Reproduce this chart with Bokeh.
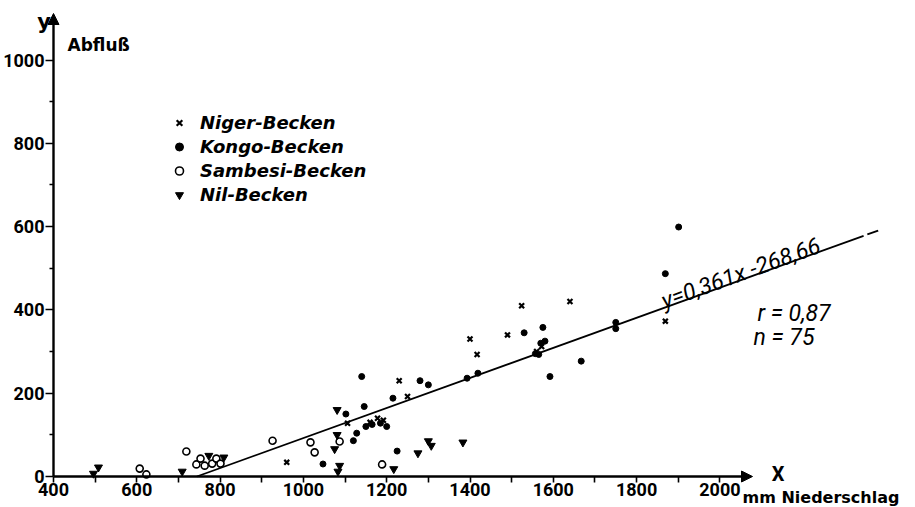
import math
from bokeh.plotting import figure
from bokeh.models import (Range1d, FixedTicker, Label, Arrow, NormalHead,
                          Legend, LegendItem)
from bokeh.embed import file_html
from bokeh.resources import INLINE

# ---------------- data ----------------
niger_x = [960, 1106, 1160, 1178, 1192, 1230, 1250, 1400, 1417, 1490, 1524, 1560, 1572, 1640, 1869]
niger_y = [34, 128, 130, 140, 135, 230, 192, 330, 293, 340, 410, 300, 312, 420, 373]

kongo_x = [1047, 1102, 1120, 1128, 1146, 1140, 1150, 1165, 1185, 1200, 1215, 1225, 1280, 1300,
           1393, 1419, 1530, 1557, 1565, 1570, 1575, 1580, 1592, 1667, 1750, 1750, 1869, 1901]
kongo_y = [30, 150, 86, 104, 168, 240, 120, 125, 128, 120, 188, 61, 230, 220,
           236, 248, 345, 295, 293, 320, 358, 325, 240, 277, 370, 355, 487, 599]

sambesi_x = [607, 623, 719, 743, 753, 763, 781, 791, 801, 926, 1017, 1027, 1087, 1189]
sambesi_y = [19, 5, 60, 29, 43, 26, 31, 43, 31, 86, 82, 58, 84, 29]

nil_x = [496, 508, 709, 773, 809, 1081, 1075, 1081, 1087, 1083, 1217, 1275, 1300, 1307, 1383]
nil_y = [7, 22, 12, 50, 46, 160, 66, 100, 26, 12, 18, 56, 85, 74, 82]

series_names = ["Niger-Becken", "Kongo-Becken", "Sambesi-Becken", "Nil-Becken"]

slope = 0.361
intercept = -268.66
equation_text = "y=0,361x -268,66"
r_text = "r = 0,87"
n_text = "n = 75"

x_ticks = [400, 600, 800, 1000, 1200, 1400, 1600, 1800, 2000]
x_minor = [500, 700, 900, 1100, 1300, 1500, 1700, 1900]
y_ticks = [0, 200, 400, 600, 800, 1000]
y_minor = [100, 300, 500, 700, 900]

x_axis_title = "X"
x_unit_title = "mm Niederschlag"
y_axis_title = "y"
y_unit_title = "Abfluß"

# ---------------- layout ----------------
W, H = 915, 507
OX, OY = 53, 476      # pixel position of the origin (400, 0)
S = 0.4165            # px per data unit (both axes)
X0, Y0 = 400, 0
x_start = X0 - OX / S
y_start = Y0 - (H - OY) / S


def dx(px):
    return X0 + (px - OX) / S


def dy(py):
    return Y0 + (OY - py) / S


p = figure(width=W, height=H,
           x_range=Range1d(x_start, x_start + W / S),
           y_range=Range1d(y_start, y_start + H / S),
           output_backend="svg", toolbar_location=None,
           min_border=0, min_border_left=0, min_border_right=0,
           min_border_top=0, min_border_bottom=0)
p.outline_line_color = None
p.xgrid.visible = False
p.ygrid.visible = False
p.background_fill_color = "white"
p.border_fill_color = "white"

TICK_FONT = "Roboto"
for ax in (p.xaxis[0], p.yaxis[0]):
    ax.axis_line_color = None
    ax.major_tick_in = 0
    ax.minor_tick_in = 0
    ax.major_tick_line_width = 1.6
    ax.minor_tick_line_width = 1.6
    ax.major_tick_line_color = "black"
    ax.minor_tick_line_color = "black"
    ax.major_label_text_font = TICK_FONT
    ax.major_label_text_font_size = "18px"
    ax.major_label_text_font_style = "bold"
    ax.major_label_text_color = "black"

p.xaxis.fixed_location = Y0
p.xaxis.ticker = FixedTicker(ticks=x_ticks, minor_ticks=x_minor)
p.xaxis.major_tick_out = 6
p.xaxis.minor_tick_out = 6
p.xaxis.major_label_standoff = 0

p.yaxis.fixed_location = X0
p.yaxis.ticker = FixedTicker(ticks=y_ticks, minor_ticks=y_minor)
p.yaxis.major_tick_out = 8
p.yaxis.minor_tick_out = 4
p.yaxis.major_label_standoff = 1

# axis arrows
for xe, ye in ((dx(752), Y0), (X0, dy(13))):
    p.add_layout(Arrow(end=NormalHead(size=11, fill_color="black", line_color="black", line_width=1),
                       x_start=X0, y_start=Y0, x_end=xe, y_end=ye,
                       line_width=2.4, line_color="black"))

# regression line
x_zero = -intercept / slope
x_solid_end = 2345
x_dash_start, x_dash_end = 2354, 2380
p.line([x_zero, x_solid_end], [slope * x_zero + intercept, slope * x_solid_end + intercept],
       line_color="black", line_width=1.8)
p.line([x_dash_start, x_dash_end], [slope * x_dash_start + intercept, slope * x_dash_end + intercept],
       line_color="black", line_width=1.8)

# scatter series
r_niger = p.scatter(niger_x, niger_y, marker="x", size=7, line_width=2.2, line_color="black")
r_kongo = p.scatter(kongo_x, kongo_y, marker="circle", size=6, fill_color="black", line_color="black")
r_sambesi = p.scatter(sambesi_x, sambesi_y, marker="circle", size=7, fill_color="white",
                      line_color="black", line_width=1.6)
r_nil = p.scatter(nil_x, nil_y, marker="inverted_triangle", size=8, fill_color="black", line_color="black")

legend = Legend(items=[LegendItem(label=n, renderers=[r]) for n, r in
                       zip(series_names, [r_niger, r_kongo, r_sambesi, r_nil])],
                location=(169, H - 205),
                orientation="vertical", padding=0, margin=0, spacing=3,
                glyph_width=20, glyph_height=21, label_height=21, label_standoff=11,
                border_line_color=None, background_fill_alpha=0,
                label_text_font="DejaVu Sans", label_text_font_size="18px",
                label_text_font_style="bold italic", label_text_color="black")
p.add_layout(legend)


def add_text(x, y, text, font, size, style, align="left", **kw):
    p.add_layout(Label(x=x, y=y, text=text, text_font=font, text_font_size=size,
                       text_font_style=style, text_align=align, text_baseline="alphabetic",
                       text_color="black", **kw))


add_text(dx(43.5), dy(21.5), y_axis_title, "DejaVu Sans", "21px", "bold", "center")
add_text(dx(67), dy(44), y_unit_title, "DejaVu Sans", "17px", "bold")
add_text(dx(777.5), dy(473), x_axis_title, "Roboto", "20px", "bold", "center")
add_text(dx(742), dy(497), x_unit_title, "DejaVu Sans", "16px", "bold")

angle = math.atan(slope)
eq_x = 1866
add_text(eq_x, slope * eq_x + intercept, equation_text, "Roboto", "23px", "italic",
         angle=angle, x_offset=-2, y_offset=6)
add_text(dx(757), dy(313), r_text, "Roboto", "23px", "italic")
add_text(dx(753), dy(337), n_text, "Roboto", "23px", "italic")

open("out.html", "w").write(file_html(p, INLINE))
